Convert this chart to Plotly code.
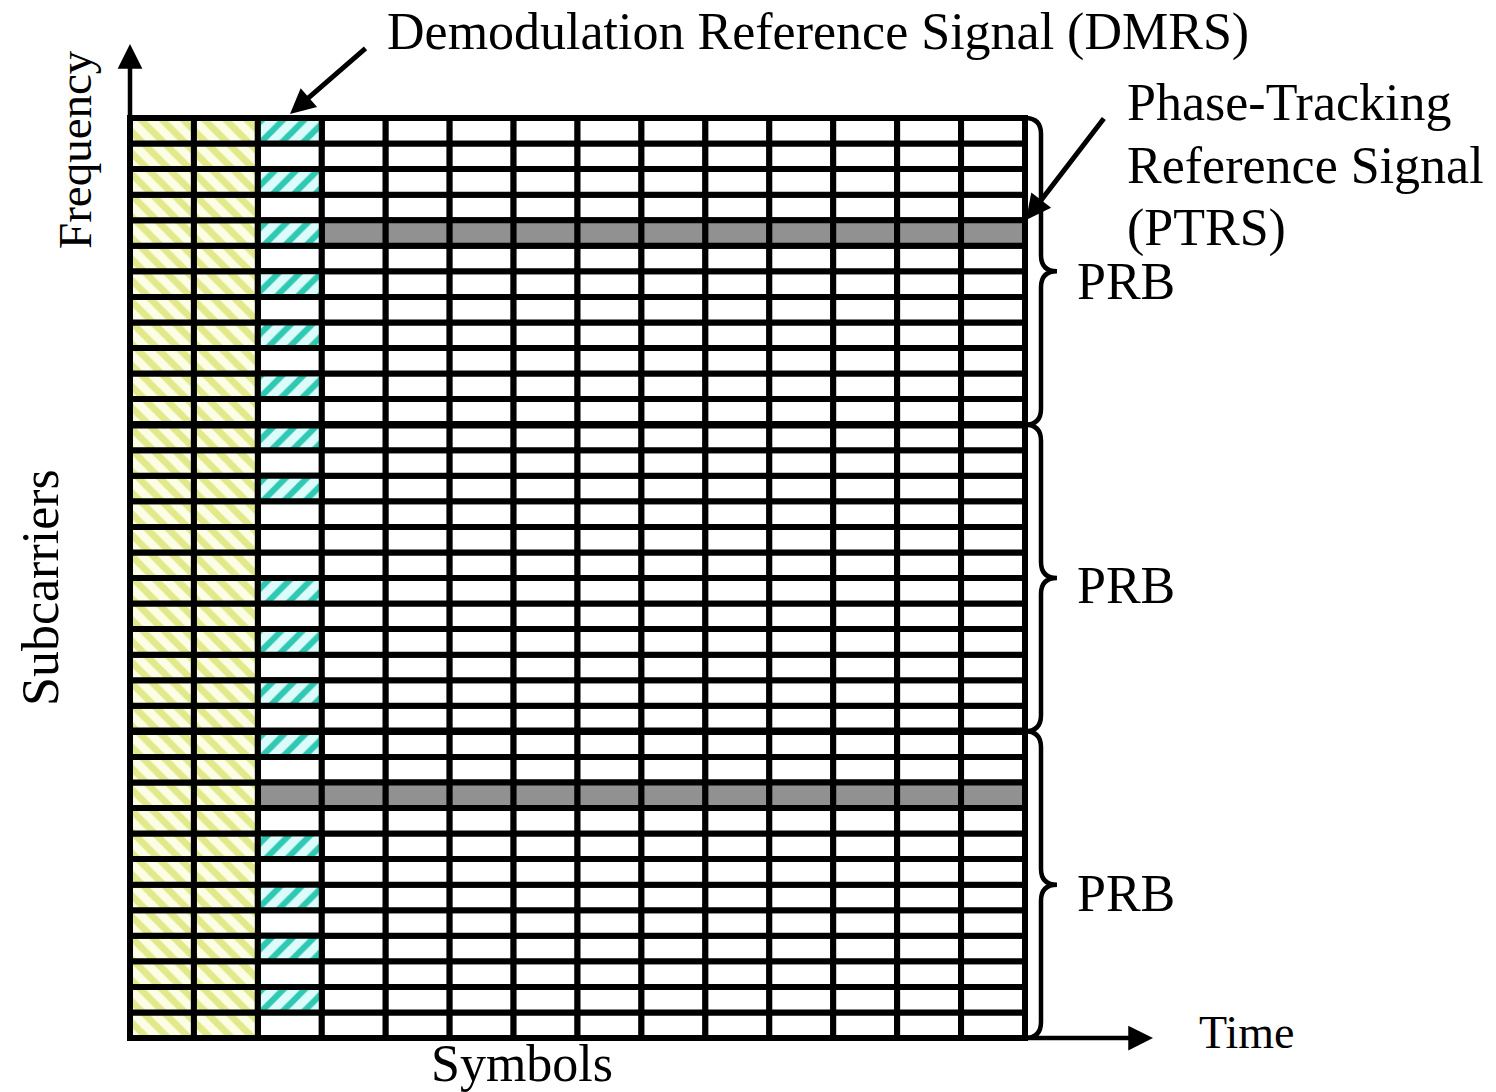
import plotly.graph_objects as go

# ---------------- data ----------------
n_symbols = 14
n_subcarriers = 36
prb_size = 12
control_symbols = [0, 1]
dmrs_symbol = 2
# subcarrier index counted from the bottom (0) to the top (35)
dmrs_subcarriers = [35, 33, 31, 29, 27, 25, 23, 21, 17, 15, 13, 11, 7, 5, 3, 1]
ptrs_subcarriers = [31, 9]
ptrs_start_symbols = [3, 2]
prb_labels = ["PRB", "PRB", "PRB"]

title_dmrs = "Demodulation Reference Signal (DMRS)"
title_ptrs = ["Phase-Tracking", "Reference Signal", "(PTRS)"]
label_time = "Time"
label_symbols = "Symbols"
label_freq = "Frequency"
label_subc = "Subcarriers"

# ---------------- geometry (page pixel <-> data) ----------------
W, H = 1496, 1092
X0PX, X1PX = 130, 1025
Y0PX, Y1PX = 1038, 118
sx = (X1PX - X0PX) / n_symbols
sy = (Y0PX - Y1PX) / n_subcarriers


def X(px):
    return (px - X0PX) / sx


def Y(py):
    return (Y0PX - py) / sy


# ---------------- cells ----------------
cells = {"data": ([], []), "ctrl": ([], []), "dmrs": ([], []), "ptrs": ([], [])}
ptrs_map = dict(zip(ptrs_subcarriers, ptrs_start_symbols))
for s in range(n_symbols):
    for k in range(n_subcarriers):
        if s in control_symbols:
            kind = "ctrl"
        elif s == dmrs_symbol and k in dmrs_subcarriers:
            kind = "dmrs"
        elif k in ptrs_map and s >= ptrs_map[k]:
            kind = "ptrs"
        else:
            kind = "data"
        cells[kind][0].append(s + 0.5)
        cells[kind][1].append(k)

LINE = dict(color="black", width=6)
fig = go.Figure()


def add_cells(kind, color, pattern=None):
    xs, bases = cells[kind]
    marker = dict(color=color, line=LINE)
    if pattern:
        marker["pattern"] = pattern
    fig.add_trace(go.Bar(x=xs, y=[1] * len(xs), base=bases, width=1,
                         marker=marker, showlegend=False, hoverinfo="skip"))


add_cells("data", "white")
add_cells("ptrs", "#919191")
add_cells("ctrl", "#fbfde4", dict(shape="\\", fgcolor="#e1e98a", bgcolor="#fbfde4",
                                  size=15, solidity=0.45, fillmode="replace"))
add_cells("dmrs", "#dcfbfb", dict(shape="/", fgcolor="#2fc9b3", bgcolor="#dcfbfb",
                                  size=15, solidity=0.4, fillmode="replace"))

# PRB boundaries (slightly thicker)
for p in range(1, n_subcarriers // prb_size):
    fig.add_trace(go.Scatter(x=[0, n_symbols], y=[p * prb_size] * 2, mode="lines",
                             line=dict(color="black", width=7.5), showlegend=False,
                             hoverinfo="skip"))

# braces
shapes = []
x0b = n_symbols
x1b = X(1041)
xtb = X(1057)
ry = 16 / sy
for p in range(n_subcarriers // prb_size):
    yb = p * prb_size
    yt = (p + 1) * prb_size
    ym = (yb + yt) / 2
    path = (f"M {x0b},{yt} Q {x1b},{yt} {x1b},{yt - ry} L {x1b},{ym + ry} "
            f"Q {x1b},{ym} {xtb},{ym} Q {x1b},{ym} {x1b},{ym - ry} "
            f"L {x1b},{yb + ry} Q {x1b},{yb} {x0b},{yb}")
    shapes.append(dict(type="path", path=path, xref="x", yref="y",
                       line=dict(color="black", width=4.5)))

FONT = "Liberation Serif, Times New Roman, serif"
ann = []


def arrow(xt, yt, xs, ys, w=4.5, head=2, size=1.0):
    ann.append(dict(x=xt, y=yt, ax=xs, ay=ys, xref="x", yref="y", axref="x", ayref="y",
                    text="", showarrow=True, arrowhead=head, arrowsize=size,
                    arrowwidth=w, arrowcolor="black", standoff=0, startstandoff=0))


# axes arrows
arrow(0, Y(44), 0, 0, w=4.5, head=2, size=1.1)
arrow(X(1153), 0, n_symbols, 0, w=4.5, head=2, size=1.1)
# pointers
arrow(X(290), Y(114), X(367), Y(47), w=5, head=2, size=1.0)
arrow(X(1026), Y(220), X(1105), Y(117), w=5, head=2, size=1.0)


def text(t, xpx, ypx, size=52, xanchor="left", angle=0):
    ann.append(dict(x=X(xpx), y=Y(ypx), xref="x", yref="y", text=t, showarrow=False,
                    xanchor=xanchor, yanchor="middle", textangle=angle,
                    font=dict(family=FONT, size=size, color="black")))


text(title_dmrs, 385, 32)
for i, t in enumerate(title_ptrs):
    text(t, 1125, 102 + 63 * i)
prb_y = [281, 585, 893]
for t, yy in zip(prb_labels, prb_y):
    text(t, 1075, yy)
text(label_time, 1197, 1032, size=46)
text(label_symbols, 522, 1063, xanchor="center")
text(label_freq, 75, 150, size=47, xanchor="center", angle=-90)
text(label_subc, 40, 588, xanchor="center", angle=-90)

fig.update_layout(
    width=W, height=H, margin=dict(l=0, r=0, t=0, b=0),
    paper_bgcolor="white", plot_bgcolor="white", barmode="overlay",
    xaxis=dict(range=[X(0), X(W)], visible=False, fixedrange=True),
    yaxis=dict(range=[Y(H), Y(0)], visible=False, fixedrange=True),
    shapes=shapes, annotations=ann, showlegend=False,
)
# remove the page's default body margin so the figure fills the window exactly
fig.write_html("out.html",
               config={"displayModeBar": False},
               post_script="document.body.style.margin='0px';"
                           "document.body.style.overflow='hidden';")
